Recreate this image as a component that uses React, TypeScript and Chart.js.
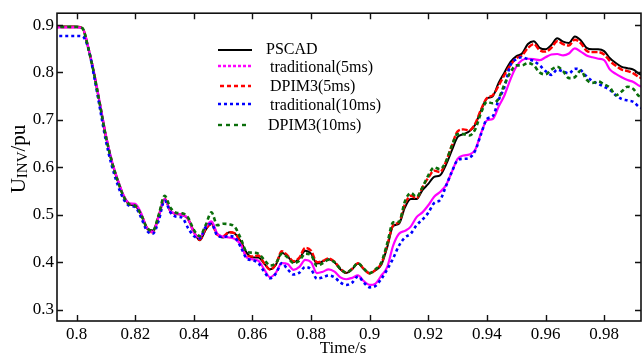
import React, { useEffect, useRef } from "react";
import { Chart, registerables } from "chart.js";
Chart.register(...registerables);

const time = [
  0.792, 0.794, 0.796, 0.798, 0.8, 0.802, 0.804, 0.806, 0.808, 0.81,
  0.812, 0.814, 0.816, 0.818, 0.82, 0.822, 0.824, 0.826, 0.828, 0.83,
  0.832, 0.834, 0.836, 0.838, 0.84, 0.842, 0.844, 0.846, 0.848, 0.85,
  0.852, 0.854, 0.856, 0.858, 0.86, 0.862, 0.864, 0.866, 0.868, 0.87,
  0.872, 0.874, 0.876, 0.878, 0.88, 0.882, 0.884, 0.886, 0.888, 0.89,
  0.892, 0.894, 0.896, 0.898, 0.9, 0.902, 0.904, 0.906, 0.908, 0.91,
  0.912, 0.914, 0.916, 0.918, 0.92, 0.922, 0.924, 0.926, 0.928, 0.93,
  0.932, 0.934, 0.936, 0.938, 0.94, 0.942, 0.944, 0.946, 0.948, 0.95,
  0.952, 0.954, 0.956, 0.958, 0.96, 0.962, 0.964, 0.966, 0.968, 0.97,
  0.972, 0.974, 0.976, 0.978, 0.98, 0.982, 0.984, 0.986, 0.988, 0.99,
  0.992, 0.994,
];

const pscad = [
  0.897, 0.897, 0.897, 0.897, 0.897, 0.893, 0.85, 0.795, 0.73, 0.664,
  0.612, 0.572, 0.539, 0.522, 0.519, 0.5, 0.472, 0.467, 0.498, 0.533,
  0.507, 0.502, 0.5, 0.491, 0.465, 0.446, 0.468, 0.482, 0.459, 0.452,
  0.463, 0.46, 0.444, 0.42, 0.41, 0.41, 0.397, 0.385, 0.395, 0.42,
  0.412, 0.4, 0.408, 0.424, 0.418, 0.397, 0.402, 0.406, 0.4, 0.385,
  0.377, 0.385, 0.397, 0.385, 0.377, 0.383, 0.395, 0.432, 0.476, 0.481,
  0.515, 0.533, 0.533, 0.552, 0.565, 0.58, 0.583, 0.605, 0.635, 0.664,
  0.67, 0.676, 0.69, 0.72, 0.745, 0.75, 0.778, 0.8, 0.822, 0.834,
  0.84, 0.86, 0.866, 0.852, 0.849, 0.858, 0.872, 0.865, 0.862, 0.876,
  0.868, 0.852, 0.849, 0.849, 0.845, 0.83, 0.82, 0.812, 0.809, 0.806,
  0.797, 0.793,
];

const dpim5 = [
  0.896, 0.896, 0.896, 0.896, 0.896, 0.893, 0.851, 0.796, 0.731, 0.665,
  0.613, 0.573, 0.54, 0.523, 0.52, 0.501, 0.472, 0.463, 0.497, 0.534,
  0.508, 0.502, 0.5, 0.491, 0.463, 0.447, 0.47, 0.48, 0.458, 0.455,
  0.463, 0.461, 0.44, 0.413, 0.412, 0.414, 0.398, 0.384, 0.396, 0.423,
  0.414, 0.402, 0.41, 0.43, 0.424, 0.4, 0.403, 0.408, 0.401, 0.386,
  0.378, 0.386, 0.398, 0.386, 0.376, 0.384, 0.398, 0.436, 0.478, 0.484,
  0.522, 0.54, 0.535, 0.558, 0.578, 0.593, 0.59, 0.612, 0.645, 0.676,
  0.68, 0.678, 0.692, 0.722, 0.746, 0.752, 0.772, 0.795, 0.815, 0.83,
  0.836, 0.852, 0.86, 0.847, 0.844, 0.852, 0.866, 0.86, 0.857, 0.869,
  0.862, 0.846, 0.843, 0.843, 0.838, 0.824, 0.814, 0.806, 0.803, 0.798,
  0.79, 0.786,
];

const trad5 = [
  0.895, 0.895, 0.895, 0.895, 0.895, 0.893, 0.852, 0.797, 0.733, 0.667,
  0.614, 0.574, 0.541, 0.524, 0.523, 0.503, 0.472, 0.464, 0.496, 0.533,
  0.508, 0.502, 0.5, 0.492, 0.462, 0.452, 0.474, 0.486, 0.46, 0.454,
  0.452, 0.449, 0.437, 0.41, 0.406, 0.403, 0.385, 0.368, 0.378, 0.398,
  0.396, 0.384, 0.39, 0.405, 0.4, 0.377, 0.38, 0.385, 0.38, 0.368,
  0.364, 0.367, 0.372, 0.36, 0.352, 0.355, 0.372, 0.39, 0.435, 0.46,
  0.466, 0.475, 0.495, 0.505, 0.52, 0.538, 0.548, 0.562, 0.59, 0.618,
  0.625, 0.627, 0.637, 0.672, 0.699, 0.702, 0.728, 0.752, 0.785, 0.812,
  0.826, 0.829, 0.828, 0.826, 0.832, 0.838, 0.839, 0.836, 0.84, 0.851,
  0.844, 0.836, 0.832, 0.829, 0.826, 0.806, 0.797, 0.79, 0.784, 0.78,
  0.772, 0.768,
];

const trad10 = [
  0.877, 0.877, 0.877, 0.877, 0.877, 0.876, 0.85, 0.79, 0.722, 0.655,
  0.603, 0.563, 0.533, 0.519, 0.516, 0.494, 0.466, 0.46, 0.488, 0.53,
  0.505, 0.496, 0.494, 0.472, 0.455, 0.45, 0.474, 0.481, 0.456, 0.453,
  0.455, 0.452, 0.432, 0.408, 0.404, 0.398, 0.38, 0.366, 0.376, 0.398,
  0.385, 0.374, 0.378, 0.39, 0.385, 0.365, 0.368, 0.372, 0.368, 0.357,
  0.352, 0.357, 0.37, 0.357, 0.347, 0.35, 0.365, 0.385, 0.408, 0.435,
  0.452, 0.46, 0.478, 0.49, 0.504, 0.525, 0.531, 0.56, 0.59, 0.615,
  0.618, 0.62, 0.635, 0.67, 0.702, 0.708, 0.742, 0.77, 0.815, 0.828,
  0.832, 0.828, 0.824, 0.815, 0.803, 0.795, 0.806, 0.802, 0.798, 0.808,
  0.805, 0.792, 0.782, 0.776, 0.77, 0.763, 0.752, 0.744, 0.741, 0.738,
  0.727, 0.722,
];

const dpim10 = [
  0.896, 0.896, 0.896, 0.896, 0.896, 0.893, 0.85, 0.795, 0.73, 0.664,
  0.612, 0.572, 0.539, 0.522, 0.519, 0.5, 0.472, 0.466, 0.5, 0.54,
  0.515, 0.504, 0.503, 0.494, 0.468, 0.455, 0.478, 0.505, 0.478, 0.481,
  0.48, 0.474, 0.45, 0.422, 0.42, 0.418, 0.405, 0.393, 0.398, 0.418,
  0.41, 0.398, 0.403, 0.418, 0.415, 0.392, 0.398, 0.405, 0.4, 0.386,
  0.378, 0.386, 0.398, 0.386, 0.377, 0.385, 0.4, 0.44, 0.484, 0.485,
  0.528, 0.546, 0.538, 0.558, 0.583, 0.6, 0.596, 0.612, 0.645, 0.67,
  0.67, 0.667, 0.68, 0.715, 0.738, 0.735, 0.745, 0.775, 0.8, 0.815,
  0.815, 0.82, 0.815, 0.8, 0.796, 0.806, 0.812, 0.803, 0.788, 0.79,
  0.804, 0.785, 0.778, 0.781, 0.775, 0.768, 0.752, 0.76, 0.77, 0.765,
  0.75, 0.748,
];

const seriesNames = ["PSCAD", "traditional(5ms)", "DPIM3(5ms)", "traditional(10ms)", "DPIM3(10ms)"];
const seriesValues = [pscad, trad5, dpim5, trad10, dpim10];
const seriesColors = ["#000000", "#ff00ff", "#ff0000", "#0000ff", "#0a6e0a"];
const plotDash = [[], [], [6, 2], [3, 3], [4, 3]];
const legendDash = [[], [3, 2], [4, 3], [3, 3], [4, 4]];
const lineWidths = [2, 2.2, 2.4, 2.6, 2.6];
const drawOrder = [5, 3, 4, 2, 1];

const xTickValues = [0.8, 0.82, 0.84, 0.86, 0.88, 0.9, 0.92, 0.94, 0.96, 0.98];
const xTickLabels = ["0.8", "0.82", "0.84", "0.86", "0.88", "0.9", "0.92", "0.94", "0.96", "0.98"];
const yTickValues = [0.3, 0.4, 0.5, 0.6, 0.7, 0.8, 0.9];
const yTickLabels = ["0.3", "0.4", "0.5", "0.6", "0.7", "0.8", "0.9"];

const FONT = "'Liberation Serif', 'Times New Roman', serif";

const decorPlugin = {
  id: "decor",
  afterDraw(chart: any) {
    const { ctx, chartArea: a, scales } = chart;
    const xs = scales.x;
    const ys = scales.y;
    ctx.save();
    // frame
    ctx.strokeStyle = "#111";
    ctx.lineWidth = 1.6;
    ctx.strokeRect(a.left, a.top, a.right - a.left, a.bottom - a.top);
    // inward ticks
    ctx.lineWidth = 1.4;
    ctx.beginPath();
    xTickValues.forEach((v) => {
      const px = Math.round(xs.getPixelForValue(v)) + 0.5;
      ctx.moveTo(px, a.bottom);
      ctx.lineTo(px, a.bottom - 6);
      ctx.moveTo(px, a.top);
      ctx.lineTo(px, a.top + 6);
    });
    yTickValues.forEach((v) => {
      const py = Math.round(ys.getPixelForValue(v)) + 0.5;
      ctx.moveTo(a.left, py);
      ctx.lineTo(a.left + 6, py);
      ctx.moveTo(a.right, py);
      ctx.lineTo(a.right - 6, py);
    });
    ctx.stroke();

    // legend
    const rows = [
      { ly: 50, ty: 50, x0: 218, x1: 252, tx: 266 },
      { ly: 66, ty: 68, x0: 218, x1: 252, tx: 270 },
      { ly: 86, ty: 87, x0: 220, x1: 251, tx: 270 },
      { ly: 104, ty: 106, x0: 218, x1: 252, tx: 270 },
      { ly: 125, ty: 126, x0: 218, x1: 248, tx: 268 },
    ];
    ctx.font = `16px ${FONT}`;
    ctx.textBaseline = "middle";
    ctx.textAlign = "left";
    rows.forEach((r, i) => {
      ctx.beginPath();
      ctx.setLineDash(legendDash[i]);
      ctx.strokeStyle = seriesColors[i];
      ctx.lineWidth = i === 0 ? 1.8 : 2.4;
      ctx.moveTo(r.x0, r.ly);
      ctx.lineTo(r.x1, r.ly);
      ctx.stroke();
      ctx.setLineDash([]);
      ctx.fillStyle = "#000";
      ctx.fillText(seriesNames[i], r.tx, r.ty);
    });

    // x title
    ctx.fillStyle = "#000";
    ctx.font = `17px ${FONT}`;
    ctx.textAlign = "center";
    ctx.textBaseline = "alphabetic";
    ctx.fillText("Time/s", 343, 353);

    // y title with subscript
    ctx.save();
    ctx.translate(25, 159);
    ctx.rotate(-Math.PI / 2);
    const big = `21px ${FONT}`;
    const small = `15px ${FONT}`;
    ctx.font = big;
    const wU = ctx.measureText("U").width;
    const wP = ctx.measureText("/pu").width;
    ctx.font = small;
    const wS = ctx.measureText("INV").width;
    const total = wU + wS + wP;
    let x = -total / 2;
    ctx.textAlign = "left";
    ctx.font = big;
    ctx.fillText("U", x, 0);
    x += wU;
    ctx.font = small;
    ctx.fillText("INV", x, 2);
    x += wS;
    ctx.font = big;
    ctx.fillText("/pu", x, 0);
    ctx.restore();

    ctx.restore();
  },
};

export default function App() {
  const canvasRef = useRef<HTMLCanvasElement | null>(null);

  useEffect(() => {
    document.body.style.margin = "0";
    const canvas = canvasRef.current;
    if (!canvas) return;
    const datasets = seriesNames.map((name, i) => ({
      label: name,
      data: time.map((t, k) => ({ x: t, y: seriesValues[i][k] })),
      borderColor: seriesColors[i],
      backgroundColor: seriesColors[i],
      borderWidth: lineWidths[i],
      borderDash: plotDash[i],
      pointRadius: 0,
      fill: false,
      cubicInterpolationMode: "monotone" as const,
      order: drawOrder[i],
    }));
    const chart = new Chart(canvas, {
      type: "line",
      data: { datasets },
      options: {
        animation: false,
        responsive: false,
        maintainAspectRatio: false,
        layout: { padding: { top: 5, right: 1, left: 0, bottom: 0 } },
        plugins: { legend: { display: false }, tooltip: { enabled: false }, title: { display: false } },
        scales: {
          x: {
            type: "linear",
            min: 0.79328,
            max: 0.99259,
            grid: { display: false, drawTicks: false },
            border: { display: false },
            afterBuildTicks: (s: any) => {
              s.ticks = xTickValues.map((v) => ({ value: v }));
            },
            afterFit: (s: any) => {
              s.height = 36;
            },
            ticks: {
              autoSkip: false,
              maxRotation: 0,
              padding: 3,
              color: "#000",
              font: { family: FONT, size: 17 },
              callback: (v: any) => {
                const idx = xTickValues.findIndex((t) => Math.abs(t - v) < 1e-9);
                return idx >= 0 ? xTickLabels[idx] : "";
              },
            },
          },
          y: {
            type: "linear",
            min: 0.276,
            max: 0.925,
            grid: { display: false, drawTicks: false },
            border: { display: false },
            afterBuildTicks: (s: any) => {
              s.ticks = yTickValues.map((v) => ({ value: v }));
            },
            afterFit: (s: any) => {
              s.width = 57;
            },
            ticks: {
              autoSkip: false,
              padding: 3,
              color: "#000",
              font: { family: FONT, size: 17 },
              callback: (v: any) => {
                const idx = yTickValues.findIndex((t) => Math.abs(t - v) < 1e-9);
                return idx >= 0 ? yTickLabels[idx] : "";
              },
            },
          },
        },
      },
      plugins: [decorPlugin],
    });
    return () => chart.destroy();
  }, []);

  return (
    <div style={{ width: 642, height: 357, background: "#fff" }}>
      <canvas ref={canvasRef} width={642} height={357} style={{ display: "block" }} />
    </div>
  );
}
